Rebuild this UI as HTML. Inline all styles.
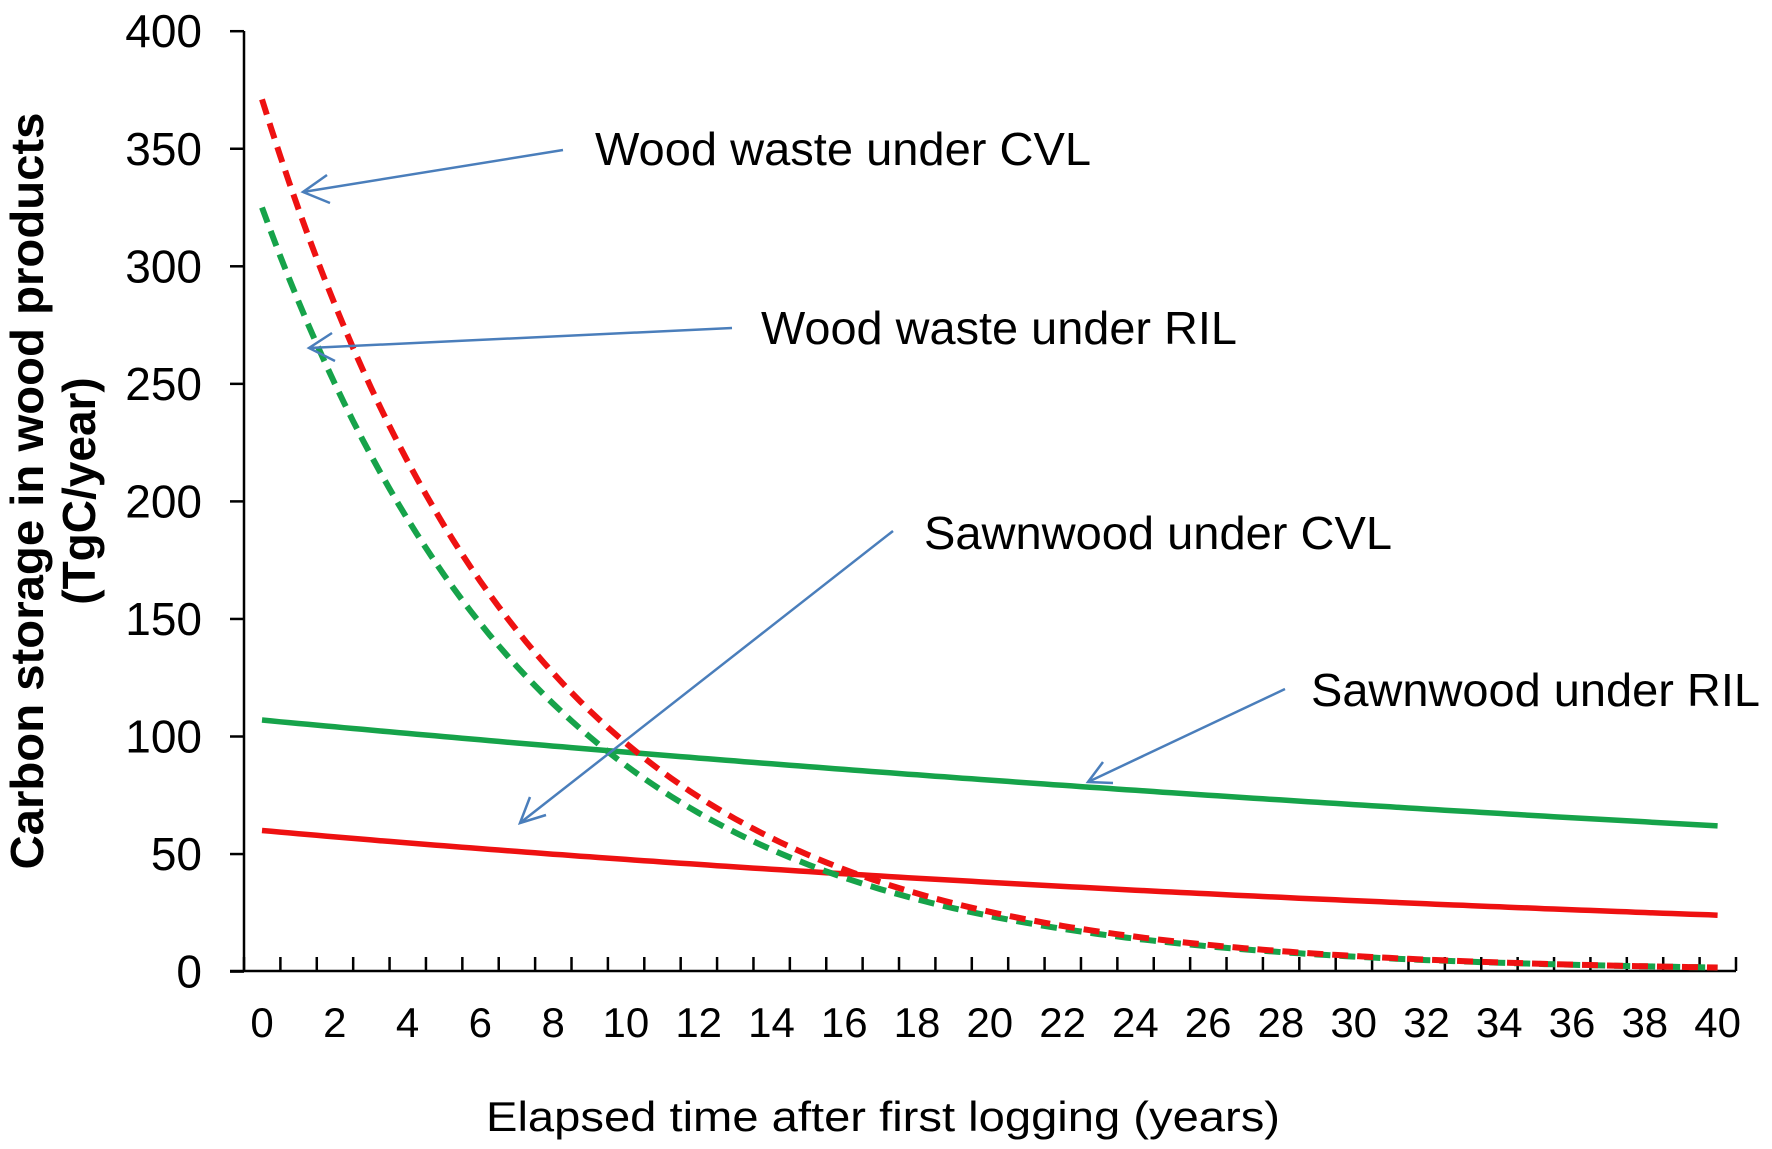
<!DOCTYPE html>
<html><head><meta charset="utf-8"><style>html,body{margin:0;padding:0;background:#fff;}svg{display:block}</style></head>
<body>
<svg id="s" width="1772" height="1149" xmlns="http://www.w3.org/2000/svg" font-family="Liberation Sans, Arial, sans-serif">
<rect width="1772" height="1149" fill="#fff"/>
<g id="axes" stroke="#000" stroke-width="2.5" fill="none"></g>
<g id="labels" font-size="46" fill="#000"></g>
<g id="series" fill="none" stroke-width="5.5"></g>
<g stroke="#4a7ebb" stroke-width="2.5" fill="none">
<line x1="563" y1="150" x2="303" y2="192"/><polyline points="327,175 303,192 330,203"/>
<line x1="732" y1="328" x2="309" y2="348"/><polyline points="332,333 309,348 335,361"/>
<line x1="893" y1="531" x2="520" y2="823"/><polyline points="530,797 520,823 546,815"/>
<line x1="1285" y1="689" x2="1088" y2="782"/><polyline points="1103,762 1088,782 1113,783"/>
</g>
<g font-size="46" fill="#000">
<text x="595" y="165" textLength="496" lengthAdjust="spacingAndGlyphs">Wood waste under CVL</text>
<text x="761" y="344" textLength="476" lengthAdjust="spacingAndGlyphs">Wood waste under RIL</text>
<text x="924" y="549" textLength="468" lengthAdjust="spacingAndGlyphs">Sawnwood under CVL</text>
<text x="1311" y="706" textLength="449" lengthAdjust="spacingAndGlyphs">Sawnwood under RIL</text>
<text x="486" y="1131" font-size="42" textLength="794" lengthAdjust="spacingAndGlyphs">Elapsed time after first logging (years)</text>
</g>
<g font-size="46" font-weight="bold" fill="#000" text-anchor="middle">
<text transform="translate(43,491) rotate(-90)" textLength="757" lengthAdjust="spacingAndGlyphs">Carbon storage in wood products</text>
<text transform="translate(95,491) rotate(-90)">(TgC/year)</text>
</g>
</svg>
<script>
var NS="http://www.w3.org/2000/svg";
function el(p,t,a,txt){var e=document.createElementNS(NS,t);for(var k in a)e.setAttribute(k,a[k]);if(txt!=null)e.textContent=txt;document.getElementById(p).appendChild(e);return e;}
function Y(v){return 971.6-2.351*v;}
function X(k){return 262+36.39*k;}
el("axes","line",{x1:244,y1:31,x2:244,y2:971});
el("axes","line",{x1:230,y1:971,x2:1736,y2:971});
for(var v=0;v<=400;v+=50){var y=Y(v);el("axes","line",{x1:230,y1:y,x2:244,y2:y});
 el("labels","text",{x:202,y:y+16,"text-anchor":"end"},String(v));}
for(var i=0;i<=41;i++){var x=244+36.39*i;el("axes","line",{x1:x,y1:957,x2:x,y2:971});}
for(var k=0;k<=40;k+=2){el("labels","text",{x:X(k),y:1037,"text-anchor":"middle","font-size":"42"},String(k));}
function path(f){var d="";for(var t=0;t<=40;t+=0.25){d+=(t?"L":"M")+X(t).toFixed(1)+","+Y(f(t)).toFixed(1);}return d;}
el("series","path",{d:path(function(t){return 60*Math.exp(-0.0229*t);}),stroke:"#ee1111"});
el("series","path",{d:path(function(t){return 107*Math.exp(-0.01365*t);}),stroke:"#16a34a"});
el("series","path",{d:path(function(t){return 325*Math.exp(-0.131*t);}),stroke:"#16a34a","stroke-dasharray":"16 9","stroke-width":"6"});
el("series","path",{d:path(function(t){return 371*Math.exp(-0.134*t);}),stroke:"#ee1111","stroke-dasharray":"16 9","stroke-width":"6"});
</script>
</body></html>
